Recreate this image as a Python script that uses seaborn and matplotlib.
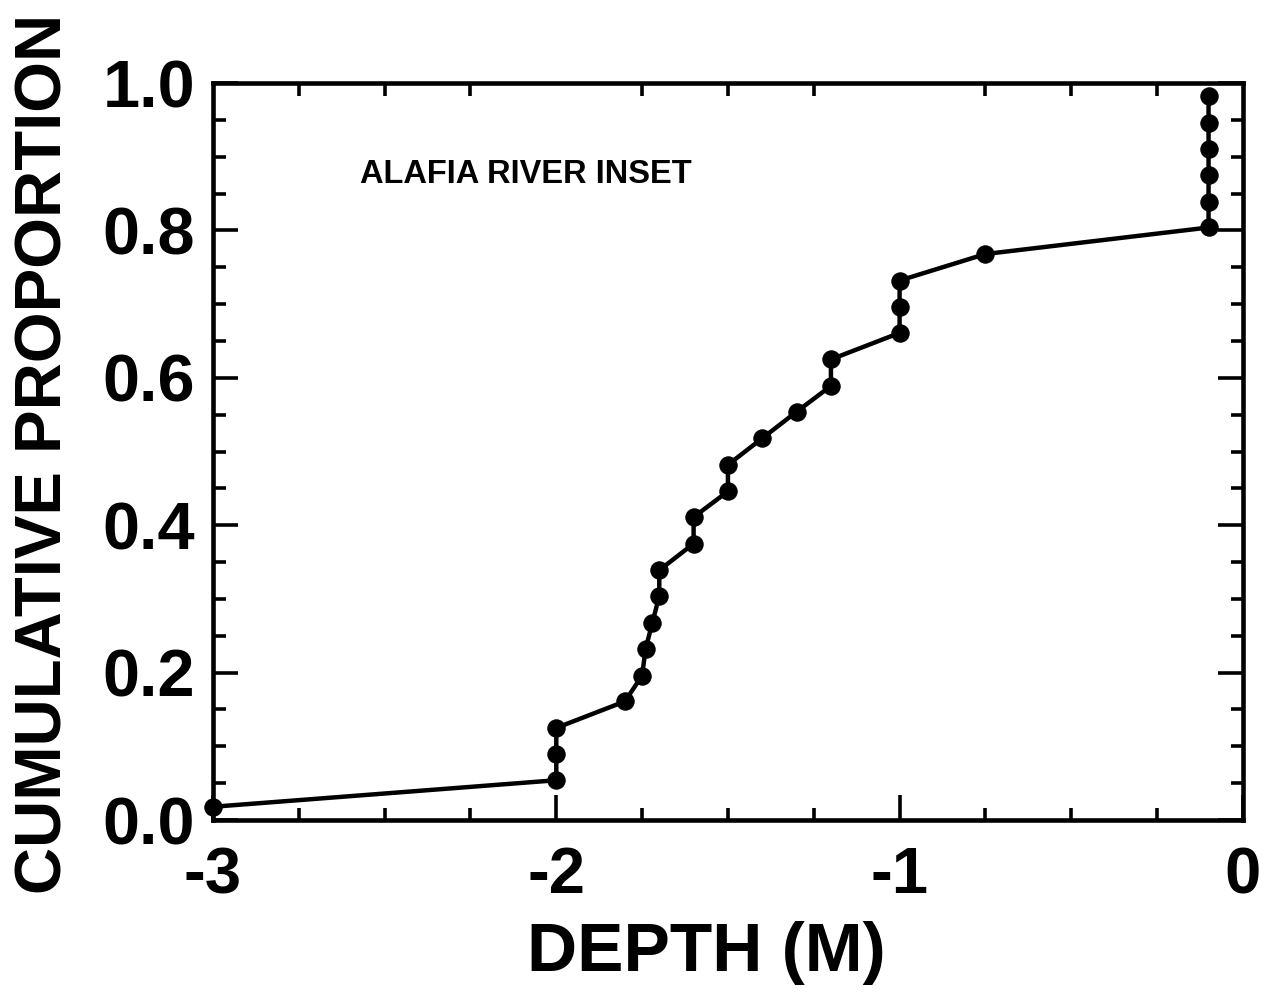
import matplotlib
matplotlib.use("Agg")
import matplotlib.pyplot as plt
from matplotlib.ticker import MultipleLocator, FixedLocator
import seaborn as sns
import pandas as pd

# Depth observations (m) and their cumulative proportions
depth = [-3.00, -2.00, -2.00, -2.00, -1.80, -1.75, -1.74, -1.72, -1.70, -1.70,
         -1.60, -1.60, -1.50, -1.50, -1.40, -1.30, -1.20, -1.20, -1.00, -1.00,
         -1.00, -0.75, -0.10, -0.10, -0.10, -0.10, -0.10, -0.10]
proportion = [0.018, 0.054, 0.089, 0.125, 0.161, 0.196, 0.232, 0.268, 0.304, 0.339,
              0.375, 0.411, 0.446, 0.482, 0.518, 0.554, 0.589, 0.625, 0.661, 0.696,
              0.732, 0.768, 0.804, 0.839, 0.875, 0.911, 0.946, 0.982]
x_ticks = [-3, -2, -1, 0]
x_tick_labels = ["-3", "-2", "-1", "0"]
y_ticks = [0.0, 0.2, 0.4, 0.6, 0.8, 1.0]
y_tick_labels = ["0.0", "0.2", "0.4", "0.6", "0.8", "1.0"]

df = pd.DataFrame({"depth": depth, "proportion": proportion})

sns.set_style("ticks")
plt.rcParams["font.family"] = ["Liberation Sans", "DejaVu Sans"]
plt.rcParams["font.weight"] = "bold"
plt.rcParams["text.color"] = "black"
plt.rcParams["axes.labelcolor"] = "black"
plt.rcParams["xtick.color"] = "black"
plt.rcParams["ytick.color"] = "black"

fig = plt.figure(figsize=(12.8, 9.97), dpi=100)
ax = fig.add_axes([0.1664, 0.1775, 0.8046, 0.7392])

sns.lineplot(data=df, x="depth", y="proportion", sort=False, estimator=None,
             color="black", linewidth=3.2, marker="o", markersize=12.5,
             markeredgecolor="black", markerfacecolor="black", ax=ax)
for ln in ax.lines:
    ln.set_clip_on(False)

ax.set_xlim(-3, 0)
ax.set_ylim(0, 1.0)
ax.xaxis.set_major_locator(FixedLocator(x_ticks))
ax.set_xticklabels(x_tick_labels)
ax.yaxis.set_major_locator(FixedLocator(y_ticks))
ax.set_yticklabels(y_tick_labels)
ax.xaxis.set_minor_locator(MultipleLocator(0.25))
ax.yaxis.set_minor_locator(MultipleLocator(0.05))

ax.tick_params(which="both", direction="in", top=True, right=True, width=2.6,
               color="black", labelcolor="black")
ax.tick_params(which="major", length=18, pad=13)
ax.tick_params(which="minor", length=9)
ax.tick_params(axis="y", which="major", labelsize=48)
ax.tick_params(axis="x", which="major", top=False, pad=19, labelsize=47)
for lab in ax.get_xticklabels() + ax.get_yticklabels():
    lab.set_fontweight("bold")

for sp in ax.spines.values():
    sp.set_linewidth(3.3)
    sp.set_color("black")
    sp.set_visible(True)

ax.set_xlabel("DEPTH (M)", fontsize=50, fontweight="bold", color="black")
ax.set_ylabel("CUMULATIVE PROPORTION", fontsize=47, fontweight="bold",
              color="black")
ax.xaxis.set_label_coords(0.4786, -0.137)
ax.yaxis.set_label_coords(-0.134, 0.497)

ax.text(-2.572, 0.876, "ALAFIA RIVER INSET", fontsize=23.5, fontweight="bold",
        color="black", ha="left", va="center")

fig.savefig("out.png", dpi=100, facecolor="white")
